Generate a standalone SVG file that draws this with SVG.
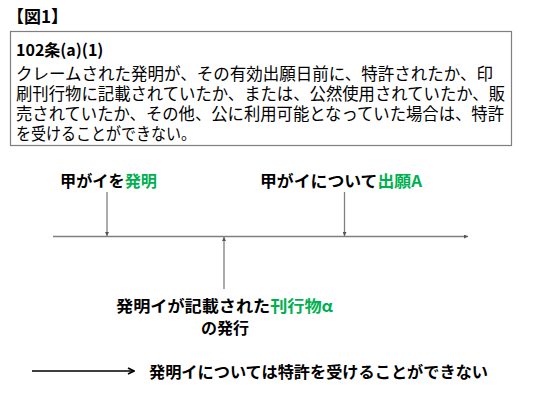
<svg xmlns="http://www.w3.org/2000/svg" width="547" height="407" viewBox="0 0 547 407">
<defs>
<style>
text{font-family:"Noto Sans CJK JP","Liberation Sans",sans-serif;fill:#000}
.b{font-weight:bold}
.g{fill:#00B050}
.body{font-size:16.5px}
.lab{font-size:16px;font-weight:bold}
.conn{stroke:#7f7f7f;stroke-width:1.3;fill:none}
</style>
<marker id="ah" viewBox="0 0 6 6" refX="6" refY="3" markerWidth="4" markerHeight="4" orient="auto" markerUnits="userSpaceOnUse">
<path d="M0,0 L6,3 L0,6 z" fill="#555"/>
</marker>
<marker id="ahk" viewBox="0 0 8 8" refX="7" refY="4" markerWidth="8" markerHeight="8" orient="auto" markerUnits="userSpaceOnUse">
<path d="M1,1 L7,4 L1,7" fill="none" stroke="#000" stroke-width="1.6"/>
</marker>
</defs>
<rect width="547" height="407" fill="#fff"/>
<g id="title"><text x="7" y="23" class="b" font-size="17">【図1】</text></g>
<g id="rulebox">
<rect x="10.5" y="31.5" width="501" height="114" fill="#fff" stroke="#7f7f7f" stroke-width="1.2"/>
<text x="16" y="56" class="b" font-size="16">102条(a)(1)</text>
<text x="16" y="80" class="body" textLength="477" lengthAdjust="spacingAndGlyphs">クレームされた発明が、その有効出願日前に、特許されたか、印</text>
<text x="16" y="100" class="body" textLength="489" lengthAdjust="spacingAndGlyphs">刷刊行物に記載されていたか、または、公然使用されていたか、販</text>
<text x="16" y="120" class="body" textLength="488" lengthAdjust="spacingAndGlyphs">売されていたか、その他、公に利用可能となっていた場合は、特許</text>
<text x="16" y="140" class="body" textLength="180" lengthAdjust="spacingAndGlyphs">を受けることができない。</text>
</g>
<g id="connectors">
<line class="conn" x1="53" y1="236.5" x2="468" y2="236.5" marker-end="url(#ah)"/>
<line class="conn" x1="107" y1="192" x2="107" y2="236" marker-end="url(#ah)"/>
<line class="conn" x1="344.5" y1="192" x2="344.5" y2="236" marker-end="url(#ah)"/>
<line class="conn" x1="224" y1="289" x2="224" y2="237" marker-end="url(#ah)"/>
<line x1="32" y1="371" x2="134" y2="371" stroke="#000" stroke-width="1.3" marker-end="url(#ahk)"/>
</g>
<g id="invent"><text x="60" y="187" class="lab" textLength="97" lengthAdjust="spacingAndGlyphs">甲がイを<tspan class="g">発明</tspan></text></g>
<g id="filing"><text x="260" y="187" class="lab" textLength="162" lengthAdjust="spacingAndGlyphs">甲がイについて<tspan class="g">出願A</tspan></text></g>
<g id="publication">
<text x="116" y="312" class="lab" textLength="217" lengthAdjust="spacingAndGlyphs">発明イが記載された<tspan class="g">刊行物α</tspan></text>
<text x="225" y="334" class="lab" text-anchor="middle">の発行</text>
</g>
<g id="result"><text x="149" y="378" class="lab" textLength="339" lengthAdjust="spacingAndGlyphs">発明イについては特許を受けることができない</text></g>
</svg>
